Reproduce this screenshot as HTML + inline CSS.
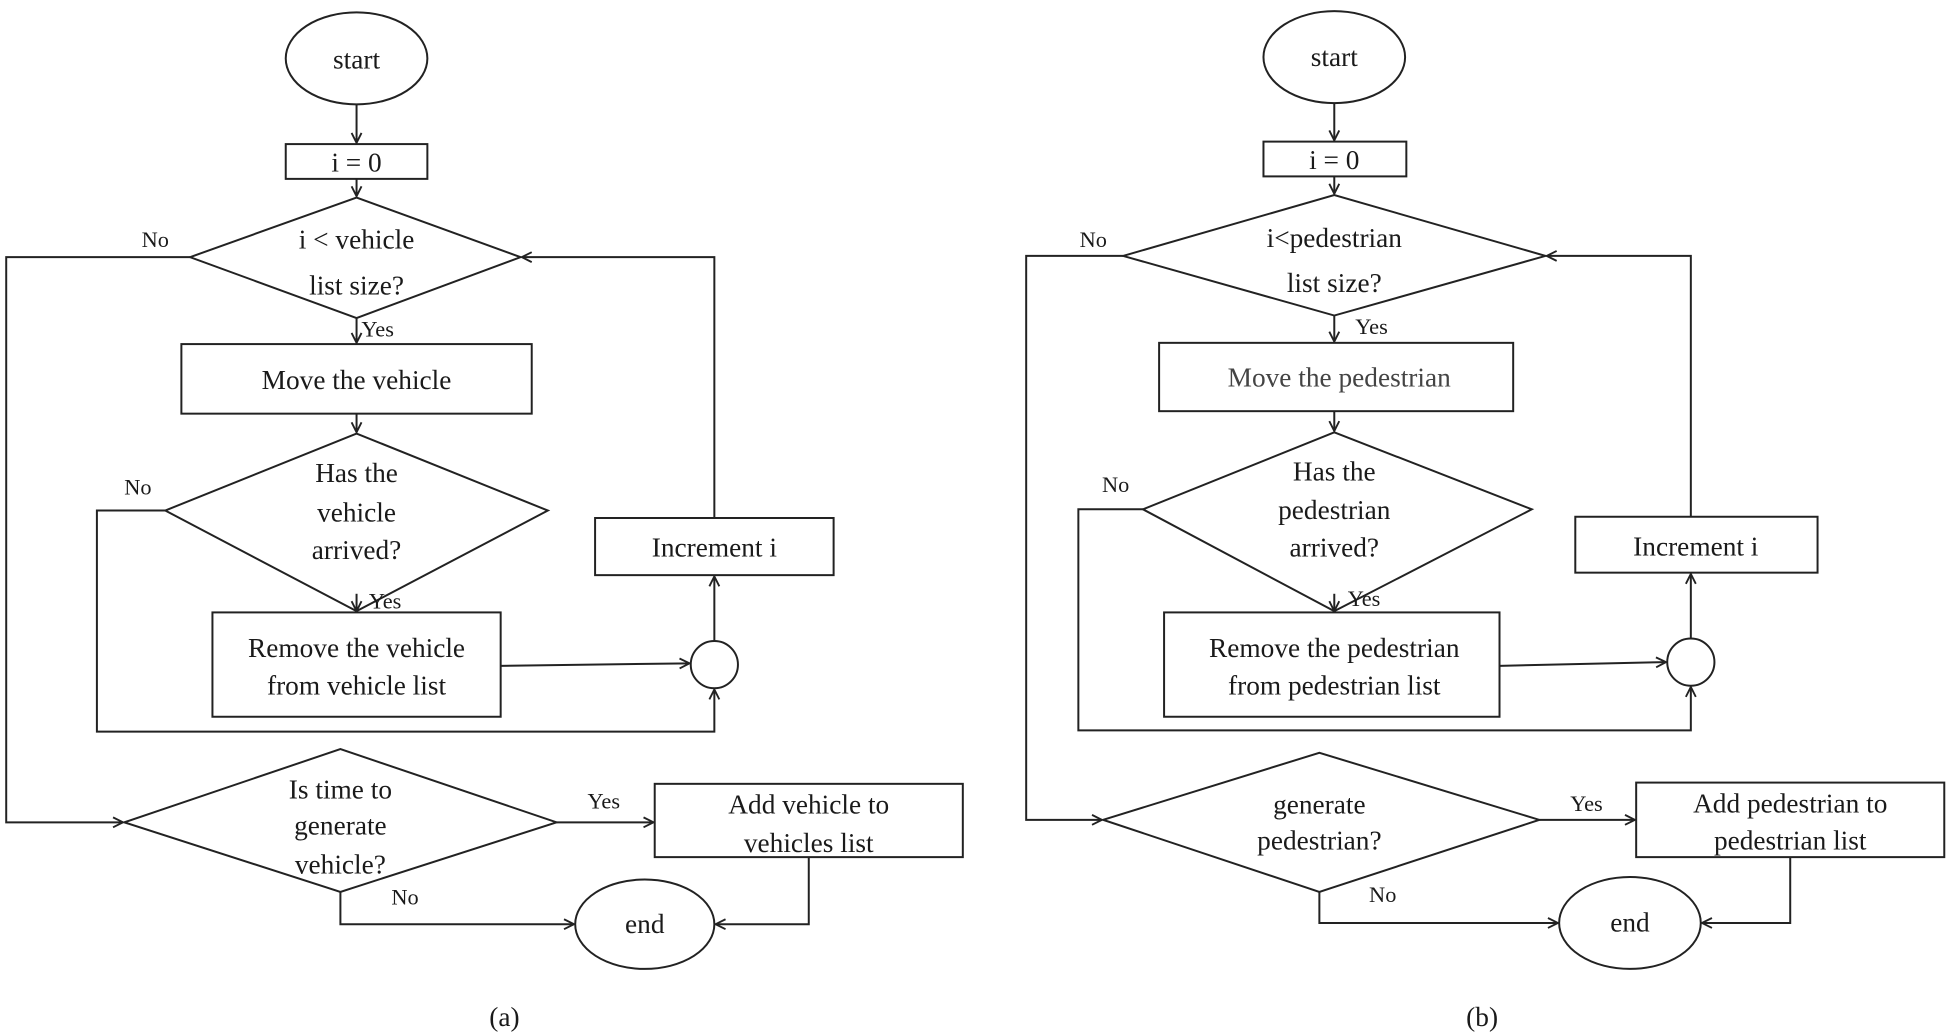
<!DOCTYPE html>
<html><head><meta charset="utf-8"><style>
html,body{margin:0;padding:0;background:#fff;}
svg{display:block;}
text{font-family:"Liberation Serif",serif;fill:#1a1a1a;text-anchor:middle;}
.t{font-size:22px;}
.s{font-size:18px;}
</style></head><body>
<svg width="1948" height="1036" viewBox="0 0 1568 834" preserveAspectRatio="none" xmlns="http://www.w3.org/2000/svg">
<defs><marker id="a" markerWidth="10" markerHeight="10" refX="9" refY="5" orient="auto" markerUnits="userSpaceOnUse"><path d="M1,1 L9,5 L1,9" fill="none" stroke="#222" stroke-width="1.5"/></marker></defs>
<g fill="none" stroke="#222" stroke-width="1.6">
<!-- (a) -->
<ellipse cx="287" cy="47" rx="57" ry="37"/>
<line x1="287" y1="84" x2="287" y2="115" marker-end="url(#a)"/>
<rect x="230" y="116" width="114" height="28"/>
<line x1="287" y1="144" x2="287" y2="158" marker-end="url(#a)"/>
<polygon points="153,207 287,159 419,207 287,256"/>
<polyline points="153,207 5,207 5,662 99,662" marker-end="url(#a)"/>
<line x1="287" y1="256" x2="287" y2="276" marker-end="url(#a)"/>
<rect x="146" y="277" width="282" height="56"/>
<line x1="287" y1="333" x2="287" y2="348" marker-end="url(#a)"/>
<polygon points="133,411 287,349 441,411 287,492"/>
<polyline points="133,411 78,411 78,589 575,589 575,555" marker-end="url(#a)"/>
<line x1="287" y1="492" x2="287" y2="492" />
<line x1="287" y1="478" x2="287" y2="492" marker-end="url(#a)"/>
<rect x="171" y="493" width="232" height="84"/>
<line x1="403" y1="536" x2="555" y2="534" marker-end="url(#a)"/>
<circle cx="575" cy="535" r="19"/>
<line x1="575" y1="516" x2="575" y2="464" marker-end="url(#a)"/>
<rect x="479" y="417" width="192" height="46"/>
<polyline points="575,417 575,207 420,207" marker-end="url(#a)"/>
<polygon points="100,662 274,603 448,662 274,718"/>
<line x1="448" y1="662" x2="526" y2="662" marker-end="url(#a)"/>
<rect x="527" y="631" width="248" height="59"/>
<polyline points="651,690 651,744 576,744" marker-end="url(#a)"/>
<ellipse cx="519" cy="744" rx="56" ry="36"/>
<polyline points="274,718 274,744 462,744" marker-end="url(#a)"/>
<!-- (b) -->
<ellipse cx="1074" cy="46" rx="57" ry="37"/>
<line x1="1074" y1="83" x2="1074" y2="113" marker-end="url(#a)"/>
<rect x="1017" y="114" width="115" height="28"/>
<line x1="1074" y1="142" x2="1074" y2="156" marker-end="url(#a)"/>
<polygon points="904,206 1074,157 1244,206 1074,254"/>
<polyline points="904,206 826,206 826,660 887,660" marker-end="url(#a)"/>
<line x1="1074" y1="254" x2="1074" y2="275" marker-end="url(#a)"/>
<rect x="933" y="276" width="285" height="55"/>
<line x1="1074" y1="331" x2="1074" y2="347" marker-end="url(#a)"/>
<polygon points="920,410 1074,348 1233,410 1074,492"/>
<polyline points="920,410 868,410 868,588 1361,588 1361,553" marker-end="url(#a)"/>
<line x1="1074" y1="478" x2="1074" y2="492" marker-end="url(#a)"/>
<rect x="937" y="493" width="270" height="84"/>
<line x1="1207" y1="536" x2="1341" y2="533" marker-end="url(#a)"/>
<circle cx="1361" cy="533" r="19"/>
<line x1="1361" y1="514" x2="1361" y2="462" marker-end="url(#a)"/>
<rect x="1268" y="416" width="195" height="45"/>
<polyline points="1361,416 1361,206 1245,206" marker-end="url(#a)"/>
<polygon points="888,660 1062,606 1239,660 1062,718"/>
<line x1="1239" y1="660" x2="1316" y2="660" marker-end="url(#a)"/>
<rect x="1317" y="630" width="248" height="60"/>
<polyline points="1441,690 1441,743 1370,743" marker-end="url(#a)"/>
<ellipse cx="1312" cy="743" rx="57" ry="37"/>
<polyline points="1062,718 1062,743 1254,743" marker-end="url(#a)"/>
</g>
<g class="t">
<text x="287" y="55" class="t">start</text>
<text x="287" y="138" class="t">i = 0</text>
<text x="287" y="200" class="t">i &lt; vehicle</text>
<text x="287" y="237" class="t">list size?</text>
<text x="287" y="313" class="t">Move the vehicle</text>
<text x="287" y="388" class="t">Has the</text>
<text x="287" y="420" class="t">vehicle</text>
<text x="287" y="450" class="t">arrived?</text>
<text x="287" y="529" class="t">Remove the vehicle</text>
<text x="287" y="559" class="t">from vehicle list</text>
<text x="575" y="448" class="t">Increment i</text>
<text x="274" y="643" class="t">Is time to</text>
<text x="274" y="672" class="t">generate</text>
<text x="274" y="703" class="t">vehicle?</text>
<text x="651" y="655" class="t">Add vehicle to</text>
<text x="651" y="686" class="t">vehicles list</text>
<text x="519" y="751" class="t">end</text>
<text x="406" y="826" class="t">(a)</text>
<text x="1074" y="53" class="t">start</text>
<text x="1074" y="136" class="t">i = 0</text>
<text x="1074" y="199" class="t">i&lt;pedestrian</text>
<text x="1074" y="235" class="t">list size?</text>
<text x="1078" y="311" class="t" style="fill:#444">Move the pedestrian</text>
<text x="1074" y="387" class="t">Has the</text>
<text x="1074" y="418" class="t">pedestrian</text>
<text x="1074" y="448" class="t">arrived?</text>
<text x="1074" y="529" class="t">Remove the pedestrian</text>
<text x="1074" y="559" class="t">from pedestrian list</text>
<text x="1365" y="447" class="t">Increment i</text>
<text x="1062" y="655" class="t">generate</text>
<text x="1062" y="684" class="t">pedestrian?</text>
<text x="1441" y="654" class="t">Add pedestrian to</text>
<text x="1441" y="684" class="t">pedestrian list</text>
<text x="1312" y="750" class="t">end</text>
<text x="1193" y="826" class="t">(b)</text>
</g>
<g>
<text x="125" y="199" class="s">No</text>
<text x="304" y="271" class="s">Yes</text>
<text x="111" y="398" class="s">No</text>
<text x="310" y="490" class="s">Yes</text>
<text x="486" y="651" class="s">Yes</text>
<text x="326" y="728" class="s">No</text>
<text x="880" y="199" class="s">No</text>
<text x="1104" y="269" class="s">Yes</text>
<text x="898" y="396" class="s">No</text>
<text x="1098" y="488" class="s">Yes</text>
<text x="1277" y="653" class="s">Yes</text>
<text x="1113" y="726" class="s">No</text>
</g>
</svg>
</body></html>
